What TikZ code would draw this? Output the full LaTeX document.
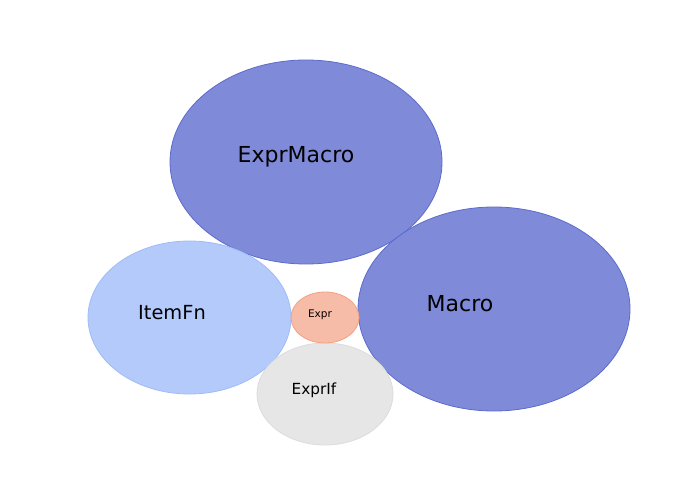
\documentclass[tikz,border=0pt]{standalone}
\usepackage{fontspec}
\setmainfont{DejaVu Sans}
\definecolor{bluefill}{RGB}{127,139,217}
\definecolor{blueline}{RGB}{92,106,206}
\definecolor{lightfill}{RGB}{179,202,251}
\definecolor{lightline}{RGB}{160,188,247}
\definecolor{orfill}{RGB}{247,188,167}
\definecolor{orline}{RGB}{242,160,132}
\definecolor{grfill}{RGB}{230,230,230}
\definecolor{grline}{RGB}{220,220,220}
\tikzset{
  blob/.style={line width=0.8pt},
  lbl/.style={inner sep=0pt, anchor=center, text=black}
}
\begin{document}
\begin{tikzpicture}[x=1pt,y=-1pt]
\useasboundingbox (0,0) rectangle (700,500);
\fill[white] (0,0) rectangle (700,500);
\draw[blob, fill=bluefill, draw=blueline] (306,162) ellipse [x radius=136, y radius=102];
\draw[blob, fill=bluefill, draw=blueline] (494,309) ellipse [x radius=136, y radius=102];
\draw[blob, fill=lightfill, draw=lightline] (189.5,317.5) ellipse [x radius=101.5, y radius=76.5];
\draw[blob, fill=grfill, draw=grline] (325,394) ellipse [x radius=68, y radius=51];
\draw[blob, fill=orfill, draw=orline] (325,317.5) ellipse [x radius=34, y radius=25.5];
\node[lbl, font=\fontsize{22}{26}\selectfont] (exprmacro) at (296,156.5) {ExprMacro};
\node[lbl, font=\fontsize{22}{26}\selectfont] (macro) at (460,303.5) {Macro};
\node[lbl, font=\fontsize{19.4}{23}\selectfont] (itemfn) at (172,312.5) {ItemFn};
\node[lbl, font=\fontsize{15.3}{18}\selectfont] (exprif) at (314,390) {ExprIf};
\node[lbl, font=\fontsize{10.5}{12}\selectfont] (expr) at (320,314.5) {Expr};
\end{tikzpicture}
\end{document}
